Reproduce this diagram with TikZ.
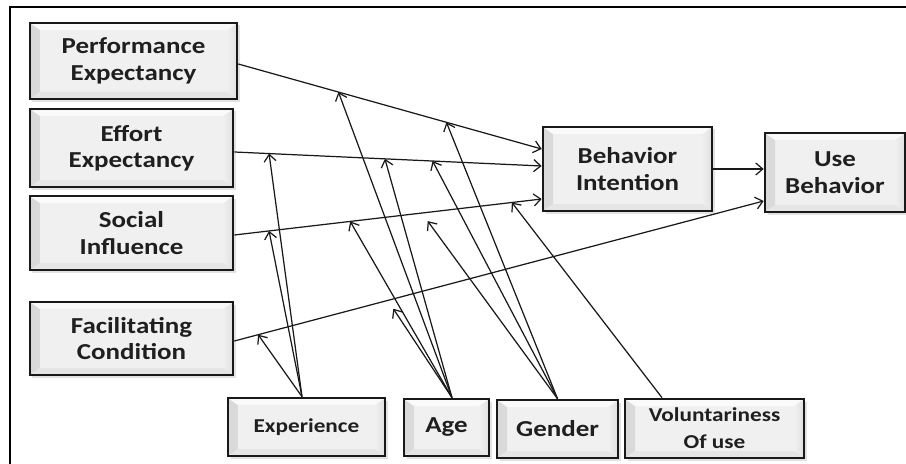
\documentclass[tikz,border=0pt]{standalone}
\usepackage{fontspec}
\newfontfamily\boxfont{Carlito}[FakeStretch=1.18]
\usetikzlibrary{arrows.meta,shadows}
\tikzset{
  box/.style={rectangle,draw=black!90,line width=1.5pt,fill=gray!12,align=center,text=black!88,
    drop shadow={shadow xshift=0.5mm,shadow yshift=-0.5mm,fill=gray!45},
    path picture={
      \shade[left color=gray!30,right color=gray!12] (path picture bounding box.north west)
        -- ([shift={(2mm,-1.4mm)}]path picture bounding box.north west)
        -- ([shift={(2mm,1.4mm)}]path picture bounding box.south west)
        -- (path picture bounding box.south west) -- cycle;
      \shade[left color=gray!12,right color=gray!24] (path picture bounding box.north east)
        -- ([shift={(-2mm,-1.4mm)}]path picture bounding box.north east)
        -- ([shift={(-2mm,1.4mm)}]path picture bounding box.south east)
        -- (path picture bounding box.south east) -- cycle;
      \fill[white!96!gray] (path picture bounding box.north west) -- (path picture bounding box.north east)
        -- ([shift={(-2mm,-1.4mm)}]path picture bounding box.north east)
        -- ([shift={(2mm,-1.4mm)}]path picture bounding box.north west) -- cycle;
      \fill[gray!20] (path picture bounding box.south west) -- (path picture bounding box.south east)
        -- ([shift={(-2mm,1.4mm)}]path picture bounding box.south east)
        -- ([shift={(2mm,1.4mm)}]path picture bounding box.south west) -- cycle;}},
  bigtext/.style={font=\boxfont\bfseries\fontsize{13}{15}\selectfont},
  smalltext/.style={font=\boxfont\bfseries\fontsize{11.2}{15.5}\selectfont},
  link/.style={->,line width=0.7pt,draw=black!90},
}
\begin{document}
\begin{tikzpicture}[x=0.2mm,y=-0.2mm,>={Straight Barb[length=1.4mm,width=2.4mm]}]
\useasboundingbox (0,0) rectangle (906,464);
\draw[line width=1.4pt] (10,464) |- (906,7);
% constructs
\node[box,bigtext,minimum width=4.14cm,minimum height=1.52cm] (PE) at (133.5,61) {Performance\\Expectancy};
\node[box,bigtext,minimum width=4.06cm,minimum height=1.56cm] (EE) at (131.5,148) {Effort\\Expectancy};
\node[box,bigtext,minimum width=4.06cm,minimum height=1.48cm] (SI) at (131.5,233) {Social\\Influence};
\node[box,bigtext,minimum width=4.06cm,minimum height=1.46cm] (FC) at (131.5,338.5) {Facilitating\\Condition};
\node[box,bigtext,minimum width=3.38cm,minimum height=1.68cm] (BI) at (627.5,169) {Behavior\\Intention};
\node[box,bigtext,minimum width=2.80cm,minimum height=1.58cm] (UB) at (835,172.5) {Use\\Behavior};
% moderators
\node[box,smalltext,minimum width=3.14cm,minimum height=1.16cm] (Exp) at (306.5,427) {Experience};
\node[box,bigtext,minimum width=1.70cm,minimum height=1.14cm] (Age) at (446.5,427.5) {Age};
\node[box,bigtext,minimum width=2.42cm,minimum height=1.16cm] (Gen) at (557.5,429) {Gender};
\node[box,smalltext,minimum width=3.58cm,minimum height=1.18cm] (Vol) at (714.5,428.5) {Voluntariness\\Of use};
% main paths
\draw[link] ([yshift=-0.6mm]PE.east) -- coordinate[pos=0.33] (pe-age) coordinate[pos=0.686] (pe-gen) ([yshift=4mm]BI.west);
\draw[link] ([yshift=-0.8mm]EE.east) -- coordinate[pos=0.113] (ee-exp) coordinate[pos=0.49] (ee-age) coordinate[pos=0.645] (ee-gen) ([yshift=0.6mm]BI.west);
\draw[link] ([yshift=-0.4mm]SI.east) -- coordinate[pos=0.113] (si-exp) coordinate[pos=0.377] (si-age) coordinate[pos=0.61] (si-gen) coordinate[pos=0.903] (si-vol) ([yshift=-6mm]BI.west);
\draw[link] ([yshift=-0.5mm]FC.east) -- coordinate[pos=0.045] (fc-exp) coordinate[pos=0.29] (fc-age) ([yshift=-5.7mm]UB.west);
\draw[link] (BI.east) -- (BI.east -| UB.west);
% moderating effects
\foreach \t in {ee-exp,si-exp,fc-exp}
  \draw[link] ([xshift=-0.9mm]Exp.north) -- (\t);
\foreach \t in {pe-age,ee-age,si-age}
  \draw[link] ([xshift=1.1mm]Age.north) -- (\t);
\draw[link,shorten >=2mm] ([xshift=1.1mm]Age.north) -- (fc-age);
\foreach \t in {pe-gen,ee-gen}
  \draw[link] (Gen.north) -- (\t);
\draw[link,shorten >=2mm] (Gen.north) -- (si-gen);
\draw[link] ([xshift=-10.5mm]Vol.north) -- (si-vol);
\end{tikzpicture}
\end{document}
